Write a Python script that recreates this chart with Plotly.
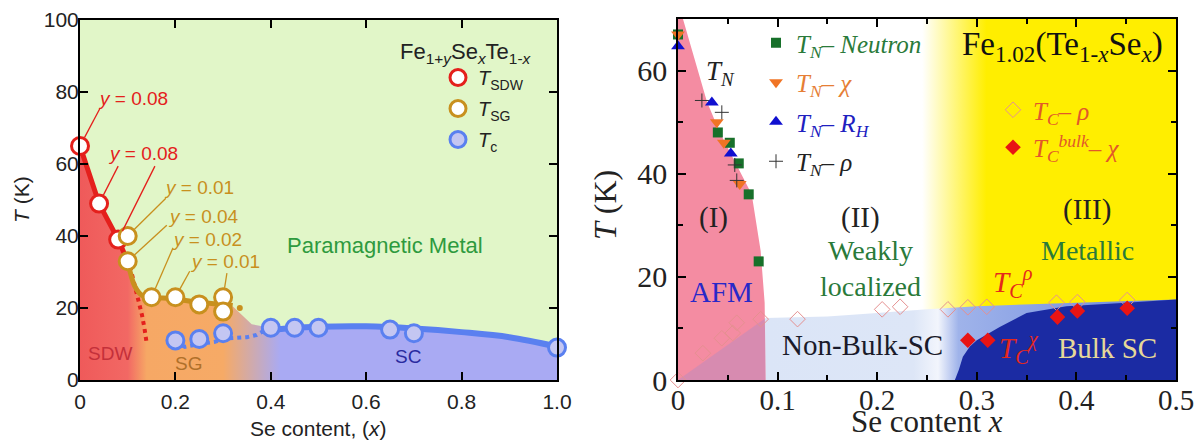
import math
import plotly.graph_objects as go

# ---------------- Left panel data (Fe1+ySexTe1-x) ----------------
sdw_x = [0, 0.04, 0.08]
sdw_T = [65, 49, 39]
sg_x = [0.1, 0.1, 0.15, 0.2, 0.25, 0.3, 0.3]
sg_T = [40, 33, 23, 23, 21, 23, 19]
tc_x = [0.2, 0.25, 0.3, 0.4, 0.45, 0.5, 0.65, 0.7, 1.0]
tc_T = [11, 11.4, 13, 14.5, 14.5, 14.5, 14, 13, 9]

# guide lines drawn through the phase boundaries
sdw_line_x = [0, 0.04, 0.08, 0.105]
sdw_line_T = [65, 49, 39, 31.5]
sdw_dot_x = [0.105, 0.115, 0.124, 0.13, 0.135, 0.14]
sdw_dot_T = [31.5, 26.4, 22, 18, 14.5, 10]
sg_line_x = [0.1, 0.115, 0.13, 0.15, 0.2, 0.25, 0.3, 0.32]
sg_line_T = [33, 26, 23.5, 23, 22.5, 21.5, 21, 20.7]
sg_tail_x = [0.335]
sg_tail_T = [20]
tc_dot_x = [0.2, 0.22, 0.25, 0.283, 0.3, 0.33, 0.35, 0.37, 0.385]
tc_dot_T = [10.5, 9.2, 10, 10.6, 11.5, 11.6, 11.9, 12.5, 13.6]
tc_line_x = [0.38, 0.45, 0.5, 0.6, 0.7, 0.8, 0.9, 1.0]
tc_line_T = [13.6, 14.5, 14.8, 14.9, 14.3, 13.3, 11.9, 9.3]

# outline of the coloured (ordered / SC) region
region_x = [0, 0.04, 0.08, 0.1, 0.115, 0.13, 0.15, 0.2, 0.25, 0.3, 0.32, 0.36,
            0.4, 0.45, 0.5, 0.6, 0.7, 0.8, 0.9, 1.0, 1.0, 0]
region_T = [65, 49, 39, 33, 27, 24, 23, 22.5, 21.5, 21, 20.5, 15.5,
            14.5, 14.5, 14.8, 14.9, 14.3, 13.3, 11.9, 9.3, 0, 0]

left_xticks = [0, 0.2, 0.4, 0.6, 0.8, 1.0]
left_xticktext = ["0", "0.2", "0.4", "0.6", "0.8", "1.0"]

# ---------------- Right panel data (Fe1.02(Te1-xSex)) ----------------
neu_x = [0, 0.04, 0.052, 0.061, 0.071, 0.081]
neu_T = [67, 48, 46, 42, 36, 23]
chi_x = [0, 0.039, 0.046, 0.062]
chi_T = [67, 50, 46, 38]
rh_x = [0, 0.034, 0.053]
rh_T = [64.7, 53.8, 43.9]
rho_x = [0.024, 0.044, 0.057, 0.059]
rho_T = [54.2, 51.9, 41.7, 38.7]
tcr_x = [0, 0.025, 0.044, 0.055, 0.059, 0.083, 0.12, 0.205, 0.223, 0.271, 0.291, 0.31, 0.38, 0.401, 0.451]
tcr_T = [0, 5.2, 8.1, 9.1, 11.1, 11.8, 11.8, 13.7, 14.2, 13.7, 14.1, 14.2, 15, 15.1, 15.5]
tcb_x = [0.291, 0.311, 0.381, 0.401, 0.451]
tcb_T = [7.7, 7.7, 12.2, 13.4, 13.9]

afm_x = [0, 0.005, 0.029, 0.042, 0.074, 0.083, 0.087, 0.088, 0]
afm_T = [70, 70, 54, 48, 36, 25, 15, 0, 0]
wedge_x = [0, 0.088, 0.088]
wedge_T = [0, 12, 0]
metal_x = [0.22, 0.5, 0.5, 0.22]
metal_T = [0, 0, 70, 70]
nonbulk_x = [0.088, 0.088, 0.15, 0.2, 0.25, 0.3, 0.4, 0.5, 0.5]
nonbulk_T = [0, 12, 12.3, 13, 13.7, 14.3, 15, 15.6, 0]
bulk_x = [0.278, 0.282, 0.286, 0.293, 0.3, 0.323, 0.35, 0.39, 0.45, 0.5, 0.5]
bulk_T = [0, 2, 4.5, 6.5, 7.7, 10.3, 13, 14.3, 15, 15.6, 0]

right_xticks = [0, 0.1, 0.2, 0.3, 0.4, 0.5]
right_xticktext = ["0", "0.1", "0.2", "0.3", "0.4", "0.5"]

SANS = "Liberation Sans, Arial, sans-serif"
SERIF = "Liberation Serif, Times New Roman, serif"
RED = "#e4201c"
GOLD = "#c8901e"
BLUE = "#5a80f0"

W, H = 1203, 441
LX0, LX1, LY0, LY1 = 80, 557, 380, 20     # left plot box (pixels)
RX0, RX1, RY0, RY1 = 678, 1176, 380, 19   # right plot box (pixels)

fig = go.Figure()

# ---------- left panel regions ----------
fig.add_trace(go.Scatter(
    x=region_x, y=region_T, mode="none", fill="toself", showlegend=False,
    fillgradient=dict(type="horizontal", start=0, stop=1,
                      colorscale=[[0, "#ef5a5a"], [0.10, "#f26864"], [0.14, "#f6a865"],
                                  [0.30, "#f6aa66"], [0.42, "#a9aaf3"], [1, "#a9aaf3"]]),
    xaxis="x", yaxis="y", hoverinfo="skip"))

fig.add_trace(go.Scatter(x=sdw_line_x, y=sdw_line_T, mode="lines", line=dict(color=RED, width=5),
                         showlegend=False, xaxis="x", yaxis="y"))
fig.add_trace(go.Scatter(x=sdw_dot_x, y=sdw_dot_T, mode="lines", line=dict(color=RED, width=4, dash="dot"),
                         showlegend=False, xaxis="x", yaxis="y"))
fig.add_trace(go.Scatter(x=sg_line_x, y=sg_line_T, mode="lines", line=dict(color=GOLD, width=5, shape="spline"),
                         showlegend=False, xaxis="x", yaxis="y"))
fig.add_trace(go.Scatter(x=sg_tail_x, y=sg_tail_T, mode="markers", marker=dict(color=GOLD, size=6),
                         showlegend=False, xaxis="x", yaxis="y"))
fig.add_trace(go.Scatter(x=tc_dot_x, y=tc_dot_T, mode="lines", line=dict(color=BLUE, width=4, dash="dot"),
                         showlegend=False, xaxis="x", yaxis="y"))
fig.add_trace(go.Scatter(x=tc_line_x, y=tc_line_T, mode="lines", line=dict(color=BLUE, width=6, shape="spline"),
                         showlegend=False, xaxis="x", yaxis="y"))

fig.add_trace(go.Scatter(x=sdw_x, y=sdw_T, mode="markers", cliponaxis=False,
                         marker=dict(symbol="circle", size=17, color="white", line=dict(color=RED, width=3)),
                         name="<i>T</i><sub>SDW</sub>", legend="legend", legendgroup="a",
                         xaxis="x", yaxis="y"))
fig.add_trace(go.Scatter(x=sg_x, y=sg_T, mode="markers", cliponaxis=False,
                         marker=dict(symbol="circle", size=17, color="white", line=dict(color=GOLD, width=3)),
                         name="<i>T</i><sub>SG</sub>", legend="legend", legendgroup="b",
                         xaxis="x", yaxis="y"))
fig.add_trace(go.Scatter(x=tc_x, y=tc_T, mode="markers", cliponaxis=False,
                         marker=dict(symbol="circle", size=17, color="#c4c6f2", line=dict(color=BLUE, width=3)),
                         name="<i>T</i><sub>c</sub>", legend="legend", legendgroup="c",
                         xaxis="x", yaxis="y"))

# ---------- right panel regions ----------
fig.add_trace(go.Scatter(
    x=metal_x, y=metal_T, mode="none", fill="toself", showlegend=False,
    fillgradient=dict(type="horizontal", start=0.22, stop=0.5,
                      colorscale=[[0, "#ffffff"], [0.09, "#ffffff"], [0.32, "#ffee00"], [1, "#ffee00"]]),
    xaxis="x2", yaxis="y2", hoverinfo="skip"))
fig.add_trace(go.Scatter(
    x=nonbulk_x, y=nonbulk_T, mode="none", fill="toself", showlegend=False,
    fillgradient=dict(type="horizontal", start=0.088, stop=0.5,
                      colorscale=[[0, "#dbe5f7"], [0.36, "#dde6f7"], [0.42, "#f2f5fc"], [0.47, "#9fb3ea"], [1, "#6a86dc"]]),
    xaxis="x2", yaxis="y2", hoverinfo="skip"))
fig.add_trace(go.Scatter(x=bulk_x, y=bulk_T, mode="none", fill="toself", fillcolor="#1b2ba3",
                         showlegend=False, xaxis="x2", yaxis="y2", hoverinfo="skip"))
fig.add_trace(go.Scatter(x=afm_x, y=afm_T, mode="none", fill="toself", fillcolor="#f48ca2",
                         showlegend=False, xaxis="x2", yaxis="y2", hoverinfo="skip"))
fig.add_trace(go.Scatter(x=wedge_x, y=wedge_T, mode="none", fill="toself", fillcolor="rgba(150,140,210,0.30)",
                         showlegend=False, xaxis="x2", yaxis="y2", hoverinfo="skip"))

fig.add_trace(go.Scatter(x=neu_x, y=neu_T, mode="markers", cliponaxis=False,
                         marker=dict(symbol="square", size=10, color="#17702a"),
                         name="<span style='color:#2a7a3a'><i>T<sub>N</sub></i>– <i>Neutron</i></span>",
                         legend="legend2", legendgroup="n1", xaxis="x2", yaxis="y2"))
fig.add_trace(go.Scatter(x=chi_x, y=chi_T, mode="markers", cliponaxis=False,
                         marker=dict(symbol="triangle-down", size=12, color="#f07424"),
                         name="<span style='color:#e67e35'><i>T<sub>N</sub></i>– <i>χ</i></span>",
                         legend="legend2", legendgroup="n2", xaxis="x2", yaxis="y2"))
fig.add_trace(go.Scatter(x=rh_x, y=rh_T, mode="markers", cliponaxis=False,
                         marker=dict(symbol="triangle-up", size=12, color="#1010d0"),
                         name="<span style='color:#2020c0'><i>T<sub>N</sub></i>– <i>R<sub>H</sub></i></span>",
                         legend="legend2", legendgroup="n3", xaxis="x2", yaxis="y2"))
fig.add_trace(go.Scatter(x=rho_x, y=rho_T, mode="markers", cliponaxis=False,
                         marker=dict(symbol="cross-thin", size=10, color="#333333", line=dict(color="#333333", width=1)),
                         name="<i>T<sub>N</sub></i>– <i>ρ</i>",
                         legend="legend2", legendgroup="n4", xaxis="x2", yaxis="y2"))
fig.add_trace(go.Scatter(x=tcr_x, y=tcr_T, mode="markers", cliponaxis=False,
                         marker=dict(symbol="diamond-open", size=12, color="#e59090", line=dict(width=1)),
                         name="<span style='color:#e2582a'><i>T<sub>C</sub></i>– <i>ρ</i></span>",
                         legend="legend3", legendgroup="c1", xaxis="x2", yaxis="y2"))
fig.add_trace(go.Scatter(x=tcb_x, y=tcb_T, mode="markers", cliponaxis=False,
                         marker=dict(symbol="diamond", size=12, color="#e81414"),
                         name="<span style='color:#e2582a'><i>T<sub>C</sub><sup>bulk</sup></i>– <i>χ</i></span>",
                         legend="legend3", legendgroup="c2", xaxis="x2", yaxis="y2"))

# ---------- annotations & leader lines ----------
ann = []
shapes = [dict(type="rect", xref="x domain", yref="y domain", x0=0, x1=1, y0=0, y1=1,
               fillcolor="#e1f6c8", line=dict(width=0), layer="below")]

def lab(text, x, y, color, size, xr="x", yr="y", font=SANS, xanchor="center", **kw):
    d = dict(text=text, x=x, y=y, xref=xr, yref=yr, showarrow=False,
             font=dict(family=font, size=size, color=color), xanchor=xanchor)
    d.update(kw)
    ann.append(d)

sx = (LX1 - LX0) / 1.0      # px per unit x (left)
sy = (LY0 - LY1) / 100.0    # px per K (left)

def leader(tx, ty, hx, hy, color, r=9.5):
    dx, dy = (tx - hx) * sx, (ty - hy) * sy
    f = r / math.hypot(dx, dy)
    shapes.append(dict(type="line", xref="x", yref="y", x0=tx, y0=ty,
                       x1=hx + (tx - hx) * f, y1=hy + (ty - hy) * f,
                       line=dict(color=color, width=1.3), layer="above"))

lab("<i>y</i> = 0.08", 0.111, 78.3, RED, 19)
lab("<i>y</i> = 0.08", 0.132, 63, RED, 19)
lab("<i>y</i> = 0.01", 0.249, 53.6, GOLD, 19)
lab("<i>y</i> = 0.04", 0.258, 45.5, GOLD, 19)
lab("<i>y</i> = 0.02", 0.266, 38.9, GOLD, 19)
lab("<i>y</i> = 0.01", 0.303, 32.8, GOLD, 19)
leader(0.042, 75.5, sdw_x[0], sdw_T[0], RED)
leader(0.08, 59.4, sdw_x[1], sdw_T[1], RED)
leader(0.157, 59.4, sdw_x[2], sdw_T[2], RED)
leader(0.18, 50.5, sg_x[0], sg_T[0], GOLD)
leader(0.182, 43, sg_x[1], sg_T[1], GOLD)
leader(0.195, 36.7, sg_x[2], sg_T[2], GOLD)
leader(0.23, 30.2, sg_x[3], sg_T[3], GOLD)
leader(0.308, 29.7, sg_x[5], sg_T[5], GOLD)

lab("Paramagnetic Metal", 0.64, 37.5, "#2e9a3e", 22)
lab("SDW", 0.063, 7.5, "#c4303a", 19)
lab("SG", 0.227, 4.7, "#b0702a", 19)
lab("SC", 0.688, 6.4, "#2a2aa0", 19)
lab("Fe<sub>1+<i>y</i></sub>Se<sub><i>x</i></sub>Te<sub>1-<i>x</i></sub>", 466 / W, 1 - 37 / H, "#222", 22,
    "paper", "paper", yanchor="top")

# axis titles (placed as text so the plot boxes stay fixed)
lab("Se content, (<i>x</i>)", (LX0 + LX1) / 2 / W, 1 - 428 / H, "#222", 21, "paper", "paper", yanchor="middle")
lab("<i>T</i> (K)", 21 / W, 1 - 200 / H, "#222", 21, "paper", "paper", textangle=-90, yanchor="middle")
lab("Se content <i>x</i>", (RX0 + RX1) / 2 / W, 0, "#222", 31, "paper", "paper", SERIF, yanchor="bottom")
lab("<i>T</i> (K)", 605 / W, 1 - 205 / H, "#222", 32, "paper", "paper", SERIF, textangle=-90, yanchor="middle")

lab("<i>T<sub>N</sub></i>", 0.043, 59.5, "#222", 27, "x2", "y2", SERIF)
lab("(I)", 0.036, 31.6, "#222", 29, "x2", "y2", SERIF)
lab("AFM", 0.044, 17, "#2828c8", 29, "x2", "y2", SERIF)
lab("(II)", 0.183, 31.6, "#222", 29, "x2", "y2", SERIF)
lab("Weakly<br>localized", 0.193, 21.7, "#2a7a3a", 28, "x2", "y2", SERIF)
lab("Non-Bulk-SC", 0.185, 6.8, "#1a1a2a", 29, "x2", "y2", SERIF)
lab("(III)", 0.411, 33, "#222", 29, "x2", "y2", SERIF)
lab("Metallic", 0.411, 25.2, "#2a7a3a", 28, "x2", "y2", SERIF)
lab("Bulk SC", 0.431, 6.2, "#e6d898", 29, "x2", "y2", SERIF)
lab("<i>T<sub>C</sub><sup>ρ</sup></i>", 0.314, 19.0, "#e5281c", 29, "x2", "y2", SERIF, "left")
lab("<i>T<sub>C</sub><sup>χ</sup></i>", 0.32, 6.2, "#e5281c", 29, "x2", "y2", SERIF, "left")
lab("Fe<sub>1.02</sub>(Te<sub>1-<i>x</i></sub>Se<sub><i>x</i></sub>)", 1062 / W, 1 - 24 / H, "#111", 33,
    "paper", "paper", SERIF)

axis_common = dict(showline=True, linecolor="black", mirror="ticks", ticks="inside",
                   showgrid=False, zeroline=False, tickcolor="black", automargin=False)

fig.update_layout(
    width=W, height=H, margin=dict(l=0, r=0, t=0, b=0, autoexpand=False),
    paper_bgcolor="white", plot_bgcolor="white",
    annotations=ann, shapes=shapes,
    xaxis=dict(domain=[LX0 / W, LX1 / W], range=[0, 1], tickvals=left_xticks, ticktext=left_xticktext,
               anchor="y", linewidth=2, ticklen=8, tickwidth=2, ticklabelstandoff=2,
               tickfont=dict(family=SANS, size=21, color="#222"), **axis_common),
    yaxis=dict(domain=[1 - LY0 / H, 1 - LY1 / H], range=[0, 100], dtick=20, anchor="x",
               linewidth=2, ticklen=8, tickwidth=2, ticklabelstandoff=-5,
               tickfont=dict(family=SANS, size=21, color="#222"), **axis_common),
    xaxis2=dict(domain=[RX0 / W, RX1 / W], range=[0, 0.5], tickvals=right_xticks, ticktext=right_xticktext,
                anchor="y2", linewidth=1.5, ticklen=8, tickwidth=1.5, ticklabelstandoff=-7,
                minor=dict(dtick=0.05, ticklen=5, ticks="inside", tickcolor="black"),
                tickfont=dict(family=SERIF, size=29, color="#222"), **axis_common),
    yaxis2=dict(domain=[1 - RY0 / H, 1 - RY1 / H], range=[0, 70], dtick=20, anchor="x2",
                linewidth=1.5, ticklen=8, tickwidth=1.5, ticklabelstandoff=3,
                minor=dict(dtick=10, ticklen=5, ticks="inside", tickcolor="black"),
                tickfont=dict(family=SERIF, size=30, color="#222"), **axis_common),
    legend=dict(x=(460 - 22) / W, y=1 - 58 / H, xanchor="left", yanchor="top",
                bgcolor="rgba(0,0,0,0)", tracegroupgap=2,
                font=dict(family=SANS, size=20, color="#222")),
    legend2=dict(x=(778 - 22) / W, y=1 - 20 / H, xanchor="left", yanchor="top",
                 bgcolor="rgba(0,0,0,0)", tracegroupgap=4,
                 font=dict(family=SERIF, size=25, color="#222")),
    legend3=dict(x=(1015 - 22) / W, y=1 - 87 / H, xanchor="left", yanchor="top",
                 bgcolor="rgba(0,0,0,0)", tracegroupgap=2,
                 font=dict(family=SERIF, size=25, color="#222")),
)

# remove the page's default 8px body margin so the figure sits at the window origin
fig.write_html("out.html", config={"displayModeBar": False},
               post_script="document.body.style.margin='0';")
